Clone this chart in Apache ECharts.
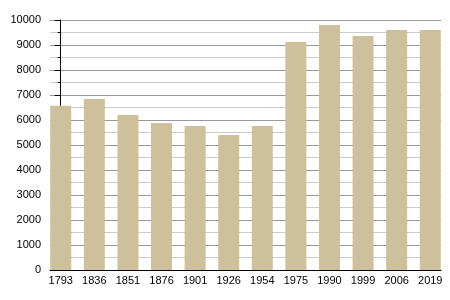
<!DOCTYPE html>
<html><head><meta charset="utf-8">
<script src="https://cdn.jsdelivr.net/npm/echarts@6/dist/echarts.min.js"></script>
<style>html,body{margin:0;padding:0;background:#fff}#c{width:450px;height:300px}</style>
</head><body><div id="c"></div>
<script>
const years = ['1793','1836','1851','1876','1901','1926','1954','1975','1990','1999','2006','2019'];
const population = [6570, 6840, 6200, 5880, 5760, 5400, 5760, 9120, 9800, 9360, 9600, 9600];
const yTicks = [0,1000,2000,3000,4000,5000,6000,7000,8000,9000,10000];

const chart = echarts.init(document.getElementById('c'), null, {renderer:'canvas'});
chart.setOption({
  animation:false,
  grid:{left:50, right:9, top:20, bottom:30, containLabel:false},
  xAxis:{
    type:'value', min:-0.32, max:11.32,
    axisLine:{show:true, onZero:false, lineStyle:{color:'#000', width:1}},
    axisTick:{show:false},
    splitLine:{show:false},
    axisLabel:{customValues: years.map((y,i)=>i), formatter:(v)=>years[Math.round(v)], color:'#000', fontFamily:'Liberation Sans', fontSize:11, margin:5}
  },
  yAxis:{
    type:'value', min:yTicks[0], max:yTicks[yTicks.length-1], interval:1000,
    axisLine:{show:true, lineStyle:{color:'#000', width:1}},
    axisTick:{show:true, length:6, lineStyle:{color:'#000'}},
    minorTick:{show:true, splitNumber:2, length:3, lineStyle:{color:'#000'}},
    splitLine:{show:true, lineStyle:{color:'#999', width:1}},
    minorSplitLine:{show:true, lineStyle:{color:'#ccc', width:1}},
    axisLabel:{color:'#000', fontFamily:'Liberation Sans', fontSize:11, margin:9, formatter:(v)=>String(v)}
  },
  series:[{
    type:'bar',
    data: population.map((v,i)=>[i,v]),
    barWidth:21,
    itemStyle:{color:'#cdc09b'},
    z:3
  }]
});
</script></body></html>
